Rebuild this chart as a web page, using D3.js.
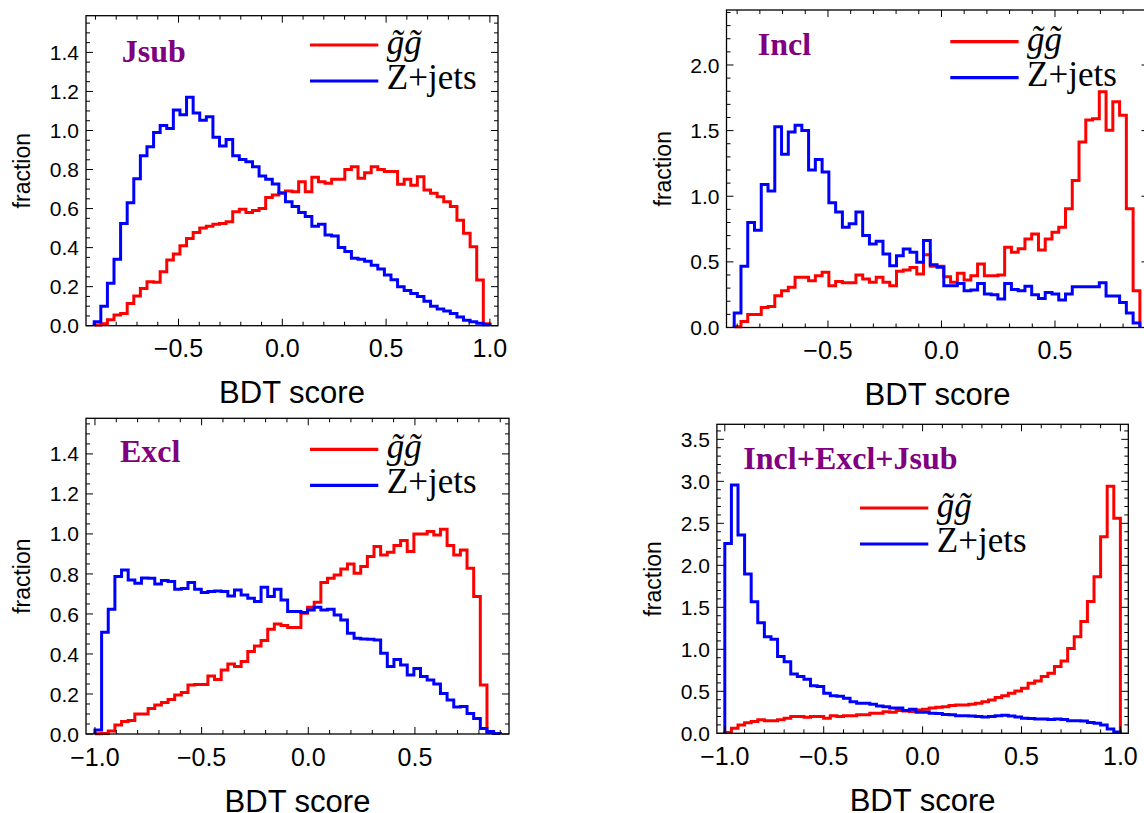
<!DOCTYPE html>
<html><head><meta charset="utf-8">
<script src="https://cdn.jsdelivr.net/npm/d3@7"></script>
<style>body{margin:0;background:#fff}svg{display:block}</style>
</head><body>
<svg id="c" width="1144" height="813"></svg>
<script>
// ---------- DATA (BDT score histograms, fraction per bin) ----------
const seriesNames = ["g\u0303g\u0303", "Z+jets"];
const panelTitles = ["Jsub", "Incl", "Excl", "Incl+Excl+Jsub"];

const jsubRange = [-0.906, 1.0];
const jsubGluino = [0.003,0.01,0.03,0.055,0.063,0.114,0.152,0.19,0.225,0.222,0.277,0.336,0.367,0.41,0.447,0.478,0.50,0.51,0.52,0.524,0.533,0.584,0.596,0.58,0.59,0.60,0.657,0.67,0.68,0.69,0.686,0.738,0.686,0.76,0.738,0.73,0.75,0.75,0.80,0.814,0.755,0.784,0.814,0.80,0.79,0.79,0.724,0.75,0.72,0.763,0.695,0.678,0.66,0.635,0.61,0.54,0.473,0.405,0.234,0.01];
const jsubZjets = [0.02,0.10,0.217,0.34,0.524,0.63,0.753,0.87,0.917,0.99,1.026,1.01,1.105,1.08,1.17,1.09,1.053,1.07,0.965,0.92,0.954,0.87,0.852,0.84,0.814,0.767,0.75,0.726,0.68,0.635,0.61,0.58,0.56,0.51,0.52,0.465,0.46,0.40,0.38,0.345,0.34,0.33,0.31,0.29,0.26,0.235,0.20,0.18,0.165,0.15,0.125,0.10,0.085,0.075,0.063,0.045,0.028,0.02,0.012,0.005];

const inclRange = [-0.913, 0.874];
const inclGluino = [0.005,0.046,0.10,0.10,0.153,0.16,0.242,0.28,0.306,0.382,0.382,0.357,0.395,0.42,0.318,0.35,0.34,0.34,0.40,0.37,0.344,0.382,0.344,0.318,0.428,0.438,0.458,0.408,0.555,0.466,0.466,0.387,0.344,0.413,0.362,0.395,0.484,0.395,0.395,0.40,0.611,0.573,0.60,0.675,0.713,0.59,0.675,0.726,0.764,0.904,1.12,1.414,1.58,1.59,1.796,1.503,1.72,1.618,0.904,0.28];
const inclZjets = [0.11,0.466,0.80,0.74,1.09,1.04,1.53,1.32,1.49,1.54,1.50,1.20,1.28,1.185,0.95,0.88,0.764,0.79,0.88,0.70,0.637,0.657,0.56,0.47,0.547,0.598,0.573,0.497,0.662,0.479,0.459,0.318,0.318,0.336,0.28,0.285,0.336,0.255,0.25,0.217,0.336,0.29,0.28,0.315,0.25,0.22,0.267,0.255,0.21,0.255,0.311,0.311,0.311,0.311,0.34,0.24,0.24,0.19,0.11,0.035];

const exclRange = [-1.0, 0.9];
const exclGluino = [0.001,0.003,0.015,0.045,0.062,0.067,0.10,0.10,0.128,0.145,0.157,0.173,0.195,0.207,0.245,0.248,0.248,0.29,0.273,0.32,0.35,0.337,0.362,0.412,0.44,0.467,0.523,0.55,0.542,0.532,0.532,0.603,0.633,0.658,0.757,0.778,0.795,0.825,0.85,0.803,0.837,0.887,0.937,0.895,0.908,0.942,0.967,0.912,1.0,1.0,1.012,0.995,1.023,0.942,0.895,0.92,0.828,0.687,0.245,0.007,0.002];
const exclZjets = [0.02,0.508,0.623,0.787,0.82,0.77,0.753,0.78,0.778,0.75,0.767,0.762,0.723,0.727,0.757,0.723,0.707,0.712,0.715,0.712,0.69,0.72,0.695,0.678,0.662,0.733,0.687,0.723,0.67,0.612,0.612,0.607,0.62,0.633,0.62,0.623,0.595,0.57,0.503,0.478,0.475,0.473,0.47,0.403,0.337,0.373,0.345,0.295,0.328,0.287,0.27,0.25,0.203,0.17,0.135,0.137,0.103,0.078,0.028,0.012,0.003];

const combRange = [-1.0, 1.0];
const combGluino = [0.01,0.06,0.10,0.127,0.14,0.16,0.15,0.15,0.16,0.18,0.20,0.20,0.19,0.20,0.20,0.18,0.21,0.20,0.21,0.21,0.22,0.22,0.24,0.24,0.258,0.25,0.27,0.265,0.26,0.278,0.286,0.30,0.31,0.317,0.33,0.337,0.337,0.345,0.357,0.377,0.397,0.425,0.448,0.476,0.504,0.536,0.595,0.623,0.675,0.714,0.794,0.861,1.01,1.15,1.33,1.57,1.865,2.34,2.94,2.56];
const combZjets = [2.26,2.956,2.36,1.897,1.567,1.317,1.15,1.12,0.913,0.853,0.706,0.675,0.643,0.567,0.556,0.476,0.448,0.44,0.417,0.377,0.357,0.357,0.345,0.325,0.317,0.30,0.30,0.27,0.285,0.25,0.25,0.24,0.235,0.225,0.22,0.21,0.21,0.205,0.20,0.195,0.20,0.21,0.215,0.205,0.195,0.18,0.175,0.17,0.17,0.165,0.17,0.165,0.15,0.15,0.145,0.13,0.12,0.10,0.05,0.015];

// tick labels
const xTicksJsub = [-0.5, 0.0, 0.5, 1.0];
const xTicksIncl = [-0.5, 0.0, 0.5];
const xTicksExcl = [-1.0, -0.5, 0.0, 0.5];
const xTicksComb = [-1.0, -0.5, 0.0, 0.5, 1.0];
const yTicksJsub = [0.0, 0.2, 0.4, 0.6, 0.8, 1.0, 1.2, 1.4];
const yTicksIncl = [0.0, 0.5, 1.0, 1.5, 2.0];
const yTicksExcl = [0.0, 0.2, 0.4, 0.6, 0.8, 1.0, 1.2, 1.4];
const yTicksComb = [0.0, 0.5, 1.0, 1.5, 2.0, 2.5, 3.0, 3.5];

// ---------- LAYOUT ----------
const panels = [
  {title: panelTitles[0], sig: jsubGluino, bkg: jsubZjets, range: jsubRange, xt: xTicksJsub, yt: yTicksJsub,
   xDom: [-0.9456, 1.0390], yMax: 1.588, yMinor: 0.05, yMajor: 0.2,
   L: 86, R: 498, T: 15.7, B: 325.7, tX: 121.7, tY: 61.7, lX: 310, lY: 45},
  {title: panelTitles[1], sig: inclGluino, bkg: inclZjets, range: inclRange, xt: xTicksIncl, yt: yTicksIncl,
   xDom: [-0.947, 0.912], yMax: 2.419, yMinor: 0.1, yMajor: 0.5,
   L: 726.5, R: 1148.5, T: 10, B: 327.5, tX: 757.8, tY: 55, lX: 950.3, lY: 41.7},
  {title: panelTitles[2], sig: exclGluino, bkg: exclZjets, range: exclRange, xt: xTicksExcl, yt: yTicksExcl,
   xDom: [-1.042, 0.941], yMax: 1.578, yMinor: 0.05, yMajor: 0.2,
   L: 86, R: 509, T: 418.3, B: 734, tX: 120, tY: 461.7, lX: 310, lY: 449.3},
  {title: panelTitles[3], sig: combGluino, bkg: combZjets, range: combRange, xt: xTicksComb, yt: yTicksComb,
   xDom: [-1.04, 1.04], yMax: 3.679, yMinor: 0.1, yMajor: 0.5,
   L: 716.9, R: 1128.3, T: 424.3, B: 733.3, tX: 743.3, tY: 469.3, lX: 860, lY: 508}
];

const svg = d3.select("#c");
const fmt = d3.format(".1f");
const SANS = "'Liberation Sans', Arial, Helvetica, sans-serif";
const SERIF = "'Liberation Serif', 'Times New Roman', 'DejaVu Serif', serif";

panels.forEach(p => {
  const x = d3.scaleLinear().domain(p.xDom).range([p.L, p.R]);
  const y = d3.scaleLinear().domain([0, p.yMax]).range([p.B, p.T]);
  const g = svg.append("g");

  // histogram outlines
  const stepPts = (vals, rng) => {
    const w = (rng[1] - rng[0]) / vals.length;
    const pts = [[rng[0], 0]];
    vals.forEach((v, i) => { pts.push([rng[0] + i * w, v]); pts.push([rng[0] + (i + 1) * w, v]); });
    pts.push([rng[1], 0]);
    return pts;
  };
  const line = d3.line().x(d => x(d[0])).y(d => y(d[1]));
  g.append("path").attr("d", line(stepPts(p.sig, p.range)))
    .attr("fill", "none").attr("stroke", "#ff0000").attr("stroke-width", 3).attr("stroke-linejoin", "miter");
  g.append("path").attr("d", line(stepPts(p.bkg, p.range)))
    .attr("fill", "none").attr("stroke", "#0000ff").attr("stroke-width", 3).attr("stroke-linejoin", "miter");

  // frame
  g.append("rect").attr("x", p.L).attr("y", p.T).attr("width", p.R - p.L).attr("height", p.B - p.T)
    .attr("fill", "none").attr("stroke", "#000").attr("stroke-width", 1.3);

  // x ticks (minor every 0.1, major every 0.5)
  const xs = d3.range(Math.ceil(p.xDom[0] * 10 - 1e-9), Math.floor(p.xDom[1] * 10 + 1e-9) + 1).map(i => i / 10);
  xs.forEach(v => {
    const major = Math.abs(v * 2 - Math.round(v * 2)) < 1e-6;
    const len = major ? 7 : 4;
    const px = x(v);
    g.append("line").attr("x1", px).attr("x2", px).attr("y1", p.B).attr("y2", p.B - len).attr("stroke", "#000").attr("stroke-width", 1);
    g.append("line").attr("x1", px).attr("x2", px).attr("y1", p.T).attr("y2", p.T + len).attr("stroke", "#000").attr("stroke-width", 1);
  });
  // y ticks
  const nMinor = Math.floor(p.yMax / p.yMinor + 1e-9);
  d3.range(0, nMinor + 1).forEach(i => {
    const v = i * p.yMinor;
    const major = Math.abs(v / p.yMajor - Math.round(v / p.yMajor)) < 1e-6;
    const len = major ? 7 : 4;
    const py = y(v);
    g.append("line").attr("y1", py).attr("y2", py).attr("x1", p.L).attr("x2", p.L + len).attr("stroke", "#000").attr("stroke-width", 1);
    g.append("line").attr("y1", py).attr("y2", py).attr("x1", p.R).attr("x2", p.R - len).attr("stroke", "#000").attr("stroke-width", 1);
  });

  // tick labels
  g.selectAll(null).data(p.xt).enter().append("text")
    .attr("x", d => x(d)).attr("y", p.B + 31.5).attr("text-anchor", "middle")
    .style("font-family", SANS).style("font-size", "25px").text(d => fmt(d));
  g.selectAll(null).data(p.yt).enter().append("text")
    .attr("x", p.L - 7).attr("y", d => y(d)).attr("dy", "0.36em").attr("text-anchor", "end")
    .style("font-family", SANS).style("font-size", "21px").text(d => fmt(d));

  // axis labels
  g.append("text").attr("x", (p.L + p.R) / 2).attr("y", p.B + 77.5).attr("text-anchor", "middle")
    .style("font-family", SANS).style("font-size", "31px").text("BDT score");
  g.append("text").attr("transform", `translate(${p.L - 56},${(p.T + p.B) / 2}) rotate(-90)`)
    .attr("text-anchor", "middle").style("font-family", SANS).style("font-size", "23px").text("fraction");

  // title
  g.append("text").attr("x", p.tX).attr("y", p.tY).style("font-family", SERIF).style("font-weight", "bold")
    .style("font-size", "32px").attr("fill", "#800080").text(p.title);

  // legend
  const lw = 68.3;
  g.append("line").attr("x1", p.lX).attr("x2", p.lX + lw).attr("y1", p.lY).attr("y2", p.lY)
    .attr("stroke", "#ff0000").attr("stroke-width", 3.2);
  g.append("line").attr("x1", p.lX).attr("x2", p.lX + lw).attr("y1", p.lY + 36).attr("y2", p.lY + 36)
    .attr("stroke", "#0000ff").attr("stroke-width", 3.2);
  g.append("text").attr("x", p.lX + lw + 8.5).attr("y", p.lY + 9).style("font-family", SERIF)
    .style("font-style", "italic").style("font-size", "35px").text(seriesNames[0]);
  g.append("text").attr("x", p.lX + lw + 8.5).attr("y", p.lY + 44).style("font-family", SERIF)
    .style("font-size", "35px").text(seriesNames[1]);
});
</script>
</body></html>
